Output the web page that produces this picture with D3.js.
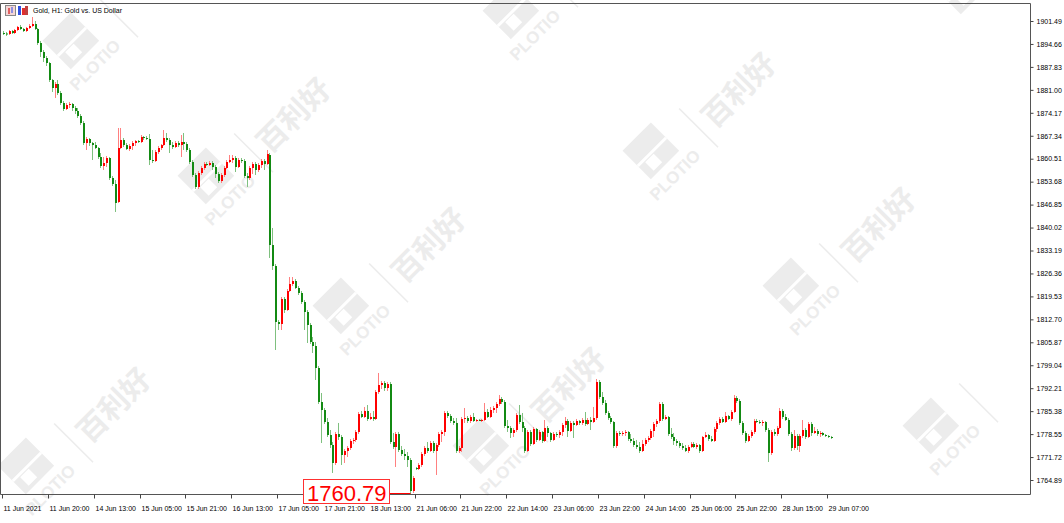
<!DOCTYPE html>
<html><head><meta charset="utf-8">
<script src="https://cdn.jsdelivr.net/npm/d3@7"></script>
<style>body{margin:0;background:#fff}svg{display:block}</style>
</head><body>
<svg id="c" width="1064" height="523"></svg>
<script>
const title = "Gold, H1:  Gold vs. US Dollar";
const timeLabels = ["11 Jun 2021","11 Jun 20:00","14 Jun 13:00","15 Jun 05:00","15 Jun 21:00","16 Jun 13:00","17 Jun 05:00","17 Jun 21:00","18 Jun 13:00","21 Jun 06:00","21 Jun 22:00","22 Jun 14:00","23 Jun 06:00","23 Jun 22:00","24 Jun 14:00","25 Jun 06:00","25 Jun 22:00","28 Jun 15:00","29 Jun 07:00"];
const labelEvery = 16;
const priceTicks = [1901.49,1894.66,1887.83,1881.00,1874.17,1867.34,1860.51,1853.68,1846.85,1840.02,1833.19,1826.36,1819.53,1812.70,1805.87,1799.04,1792.21,1785.38,1778.55,1771.72,1764.89];
const lowMark = {index:142, value:1760.79};
const watermarkLogo = "PLOTIO";
const watermarkText = "百利好";

const open = [1897.92,1897.77,1897.62,1898.51,1897.92,1898.81,1899.71,1899.11,1898.51,1899.41,1900.00,1900.60,1899.11,1894.94,1892.27,1890.48,1888.99,1883.93,1881.55,1882.74,
1880.06,1877.09,1875.30,1876.49,1876.79,1875.60,1874.71,1873.21,1871.13,1865.18,1866.37,1865.18,1864.58,1863.69,1861.01,1858.34,1859.23,1860.72,1854.77,1852.98,
1847.62,1863.69,1866.07,1864.58,1863.39,1864.29,1865.18,1865.77,1865.48,1866.97,1866.67,1866.37,1860.12,1859.82,1862.50,1863.69,1864.58,1866.67,1866.07,1864.58,
1863.99,1865.18,1864.58,1865.48,1864.88,1863.10,1859.53,1855.66,1852.09,1856.25,1857.74,1858.93,1858.63,1859.23,1858.04,1855.96,1853.87,1855.66,1857.74,1859.53,
1860.12,1860.72,1858.04,1860.12,1859.82,1855.36,1854.77,1857.74,1858.93,1857.15,1858.63,1859.82,1858.93,1861.61,1834.83,1828.58,1811.91,1811.32,1818.76,1815.48,
1821.13,1823.22,1824.11,1822.03,1820.54,1817.86,1814.89,1811.02,1805.96,1804.77,1798.22,1788.10,1785.72,1782.15,1778.28,1775.31,1769.95,1778.58,1777.69,1772.33,
1773.52,1774.42,1776.50,1776.80,1779.18,1784.53,1783.64,1785.43,1783.05,1783.64,1783.05,1791.08,1793.16,1793.76,1792.27,1793.46,1776.20,1774.71,1778.58,1773.82,
1772.63,1772.03,1770.84,1761.62,1768.46,1768.17,1769.36,1772.63,1774.42,1773.52,1775.90,1773.52,1775.31,1778.58,1779.18,1784.83,1783.94,1782.45,1781.86,1773.52,
1774.42,1783.05,1783.34,1782.45,1783.64,1782.45,1782.75,1782.60,1782.75,1785.13,1783.64,1785.72,1786.32,1787.51,1789.00,1788.10,1780.96,1780.37,1778.88,1779.77,
1784.24,1782.15,1780.37,1773.52,1779.18,1775.61,1780.07,1776.80,1779.18,1776.50,1780.37,1778.88,1776.80,1778.58,1778.28,1779.18,1781.26,1782.45,1779.47,1781.86,
1781.26,1782.45,1781.86,1782.75,1781.56,1782.75,1782.15,1783.34,1794.06,1789.59,1787.81,1784.83,1783.34,1782.15,1775.01,1778.88,1778.58,1778.88,1779.18,1777.09,
1776.50,1775.31,1774.71,1773.52,1775.61,1776.80,1777.39,1779.47,1781.56,1782.45,1787.51,1783.05,1783.64,1778.58,1777.69,1776.50,1775.90,1775.01,1774.42,1773.52,
1774.71,1775.61,1774.71,1775.31,1773.52,1777.69,1778.28,1777.09,1776.50,1780.07,1781.86,1783.05,1782.15,1783.94,1783.05,1785.13,1789.30,1788.40,1781.86,1778.88,
1776.50,1777.99,1779.18,1782.45,1782.15,1781.86,1782.15,1779.77,1772.92,1779.18,1778.58,1780.37,1785.43,1783.64,1782.75,1778.58,1774.42,1777.99,1775.01,1777.99,
1779.77,1777.69,1781.56,1778.88,1779.47,1778.58,1778.88,1778.28,1777.99,1777.69];
const high = [1898.51,1898.22,1898.81,1898.81,1899.11,1900.00,1900.30,1899.41,1899.71,1900.60,1902.68,1901.49,1899.41,1895.54,1892.86,1891.07,1889.29,1884.23,1883.34,1883.93,
1880.66,1877.68,1877.09,1877.39,1877.09,1876.20,1875.60,1873.81,1871.73,1866.97,1866.67,1865.48,1865.48,1863.99,1862.20,1861.01,1861.31,1861.01,1855.36,1854.17,
1869.65,1869.65,1866.67,1865.18,1864.88,1865.77,1866.07,1866.07,1867.56,1867.26,1867.26,1867.86,1863.10,1863.10,1864.29,1864.88,1869.05,1868.16,1866.67,1865.48,
1865.77,1865.77,1867.56,1868.16,1865.48,1863.69,1860.12,1856.25,1856.85,1858.34,1859.53,1859.53,1859.82,1859.82,1858.63,1856.55,1856.25,1858.34,1860.12,1861.61,
1861.61,1861.31,1860.72,1860.72,1860.42,1856.25,1858.34,1859.53,1859.53,1859.23,1860.42,1860.42,1863.10,1862.20,1839.89,1829.17,1812.51,1819.35,1819.35,1821.73,
1825.30,1825.30,1824.71,1822.62,1821.13,1818.46,1815.48,1811.62,1807.45,1805.96,1798.82,1790.78,1786.32,1783.34,1779.77,1776.20,1779.18,1781.86,1778.28,1774.12,
1775.01,1777.09,1777.39,1779.77,1785.13,1785.43,1786.62,1787.21,1784.83,1785.43,1791.68,1796.74,1794.35,1794.35,1794.06,1794.06,1778.88,1779.18,1779.18,1775.01,
1774.12,1773.22,1771.44,1766.08,1768.76,1769.95,1773.22,1775.01,1776.20,1776.50,1776.50,1775.90,1779.18,1779.77,1785.43,1785.43,1784.53,1783.34,1783.34,1775.01,
1783.64,1786.32,1783.94,1784.24,1784.83,1783.05,1783.05,1783.05,1787.81,1786.02,1786.62,1786.91,1788.10,1790.19,1789.59,1788.70,1782.75,1780.96,1780.37,1784.83,
1787.21,1784.83,1780.96,1779.77,1779.77,1780.66,1780.37,1779.77,1779.47,1782.75,1780.96,1779.18,1779.18,1779.18,1779.77,1781.86,1783.64,1783.05,1782.45,1782.45,
1783.05,1782.75,1783.34,1785.13,1783.34,1783.64,1786.62,1794.95,1794.65,1791.08,1788.70,1785.43,1783.94,1782.45,1779.47,1779.47,1779.47,1779.77,1779.47,1778.58,
1777.39,1776.80,1776.20,1776.80,1777.39,1777.99,1780.07,1782.15,1783.05,1788.10,1788.10,1784.24,1783.94,1780.37,1778.88,1777.09,1776.50,1775.90,1775.31,1775.31,
1776.20,1776.20,1775.90,1775.61,1777.99,1779.18,1778.58,1777.99,1780.66,1782.45,1783.64,1783.64,1785.13,1784.24,1785.72,1790.19,1789.89,1789.00,1782.45,1779.47,
1778.58,1779.77,1783.05,1783.05,1782.75,1782.75,1782.45,1780.37,1779.77,1780.07,1780.96,1786.32,1786.02,1784.53,1783.34,1779.18,1779.77,1778.58,1778.58,1782.75,
1780.37,1782.15,1782.15,1780.66,1780.07,1779.47,1779.18,1778.58,1778.28,1777.99];
const low = [1897.32,1897.03,1897.32,1897.62,1897.62,1898.51,1898.81,1898.22,1898.22,1899.11,1899.71,1898.81,1894.35,1890.78,1889.29,1888.10,1883.34,1880.36,1878.58,1879.47,
1876.49,1874.71,1875.00,1875.60,1874.71,1873.81,1872.62,1870.54,1864.58,1863.10,1864.29,1860.12,1863.39,1860.42,1857.74,1857.15,1858.04,1854.17,1852.39,1844.65,
1847.33,1863.39,1863.99,1863.10,1862.80,1863.10,1864.29,1865.18,1865.18,1866.07,1866.07,1858.63,1859.23,1859.53,1861.91,1863.10,1864.29,1865.48,1862.20,1863.39,
1863.69,1863.99,1861.01,1863.10,1862.50,1858.93,1855.06,1851.49,1851.49,1855.66,1857.15,1858.34,1858.34,1857.15,1854.77,1853.28,1853.28,1855.06,1857.44,1859.23,
1859.23,1856.55,1857.74,1859.23,1854.77,1852.09,1854.17,1855.96,1855.66,1856.55,1857.74,1857.15,1858.63,1830.96,1827.39,1803.58,1809.53,1809.53,1814.59,1815.19,
1820.84,1822.62,1821.73,1819.95,1817.27,1809.53,1805.66,1805.37,1802.69,1794.65,1787.51,1775.90,1781.56,1777.69,1774.42,1766.98,1769.36,1776.80,1769.36,1769.95,
1771.73,1773.82,1775.61,1776.20,1778.58,1783.34,1783.34,1782.45,1782.75,1782.45,1782.75,1790.49,1791.97,1791.38,1791.38,1775.61,1774.12,1768.76,1773.22,1772.03,
1770.84,1768.76,1760.79,1761.02,1767.87,1767.87,1768.76,1772.03,1772.92,1773.22,1772.92,1766.38,1774.71,1776.20,1777.99,1783.34,1781.86,1781.26,1772.92,1772.92,
1773.22,1781.86,1781.86,1781.86,1782.15,1782.15,1782.45,1782.15,1782.45,1783.34,1783.34,1784.83,1784.83,1786.91,1787.51,1780.37,1779.18,1777.39,1777.69,1779.18,
1781.56,1779.18,1772.92,1773.22,1775.01,1775.31,1776.20,1776.50,1775.90,1776.20,1777.69,1776.20,1776.50,1777.69,1777.39,1777.99,1780.37,1777.69,1779.18,1777.39,
1780.96,1781.26,1781.26,1780.96,1781.26,1779.77,1781.86,1782.75,1789.00,1787.21,1784.24,1782.75,1781.56,1774.42,1774.42,1777.99,1777.99,1777.99,1776.50,1775.90,
1774.71,1774.12,1772.92,1773.22,1775.01,1776.20,1776.80,1777.69,1780.66,1781.86,1782.45,1782.75,1777.99,1777.09,1775.31,1775.01,1774.42,1773.82,1773.22,1772.92,
1774.42,1774.42,1774.12,1772.92,1773.22,1777.39,1776.50,1776.20,1776.20,1779.18,1781.26,1781.86,1781.86,1782.75,1782.45,1784.83,1787.81,1781.26,1778.28,1775.90,
1776.20,1777.39,1778.58,1781.86,1781.56,1780.96,1779.18,1770.25,1772.33,1777.99,1777.99,1780.07,1783.05,1782.45,1777.99,1773.52,1773.82,1773.82,1773.22,1777.39,
1777.09,1777.39,1777.99,1778.58,1777.99,1777.69,1777.99,1777.69,1777.39,1777.09];
const close = [1897.77,1897.62,1898.51,1897.92,1898.81,1899.71,1899.11,1898.51,1899.41,1900.00,1900.60,1899.11,1894.94,1892.27,1890.48,1888.99,1883.93,1881.55,1882.74,1880.06,
1877.09,1875.30,1876.49,1876.79,1875.60,1874.71,1873.21,1871.13,1865.18,1866.37,1865.18,1864.58,1863.69,1861.01,1858.34,1859.23,1860.72,1854.77,1852.98,1847.33,
1863.69,1866.07,1864.58,1863.39,1864.29,1865.18,1865.77,1865.48,1866.97,1866.67,1866.37,1860.12,1859.82,1862.50,1863.69,1864.58,1866.67,1866.07,1864.58,1863.99,
1865.18,1864.58,1865.48,1864.88,1863.10,1859.53,1855.66,1852.09,1856.25,1857.74,1858.93,1858.63,1859.23,1858.04,1855.96,1853.87,1855.66,1857.74,1859.53,1860.12,
1860.72,1858.04,1860.12,1859.82,1855.36,1854.77,1857.74,1858.93,1857.15,1858.63,1859.82,1858.93,1861.91,1834.83,1828.58,1811.91,1811.32,1818.76,1815.48,1821.13,
1823.22,1824.11,1822.03,1820.54,1817.86,1814.89,1811.02,1805.96,1804.77,1798.22,1788.10,1785.72,1782.15,1778.28,1775.31,1769.95,1778.58,1777.69,1772.33,1773.52,
1774.42,1776.50,1776.80,1779.18,1784.53,1783.64,1785.43,1783.05,1783.64,1783.05,1791.08,1793.16,1793.76,1792.27,1793.46,1776.20,1774.71,1778.58,1773.82,1772.63,
1772.03,1770.84,1761.62,1765.49,1768.17,1769.36,1772.63,1774.42,1773.52,1775.90,1773.52,1775.31,1778.58,1779.18,1784.83,1783.94,1782.45,1781.86,1773.52,1774.42,
1783.05,1783.34,1782.45,1783.64,1782.45,1782.75,1782.60,1782.75,1785.13,1783.64,1785.72,1786.32,1787.51,1789.00,1788.10,1780.96,1780.37,1778.88,1779.77,1784.24,
1782.15,1780.37,1773.52,1779.18,1775.61,1780.07,1776.80,1779.18,1776.50,1780.37,1778.88,1776.80,1778.58,1778.28,1779.18,1781.26,1782.45,1779.47,1781.86,1781.26,
1782.45,1781.86,1782.75,1781.56,1782.75,1782.15,1783.34,1794.06,1789.59,1787.81,1784.83,1783.34,1782.15,1775.01,1778.88,1778.58,1778.88,1779.18,1777.09,1776.50,
1775.31,1774.71,1773.52,1775.61,1776.80,1777.39,1779.47,1781.56,1782.45,1787.51,1783.05,1783.64,1778.58,1777.69,1776.50,1775.90,1775.01,1774.42,1773.52,1774.71,
1775.61,1774.71,1775.31,1773.52,1777.69,1778.28,1777.09,1776.50,1780.07,1781.86,1783.05,1782.15,1783.94,1783.05,1785.13,1789.30,1788.40,1781.86,1778.88,1776.50,
1777.99,1779.18,1782.45,1782.15,1781.86,1782.15,1779.77,1772.92,1779.18,1778.58,1780.37,1785.43,1783.64,1782.75,1778.58,1774.42,1777.99,1775.01,1777.99,1779.77,
1777.69,1781.56,1778.88,1779.47,1778.58,1778.88,1778.28,1777.99,1777.69,1777.54];

// approximate watermark anchor points (logo centres)
const wmX = [85, 220, 355, 495, 525, 665, 805, 945, 975, 40, -95];
const wmY = [55, 190, 320, 460, 25, 165, 300, 440, 0, 480, 345];

const candles = open.map((o,i)=>({i,o,h:high[i],l:low[i],c:close[i]}));

const W = 1064, H = 523;
const svg = d3.select("#c");
const FONT = "'Liberation Sans', Arial, sans-serif";
const x = d3.scaleLinear().domain([0, labelEvery*(timeLabels.length-1)]).range([3, 828.1]);
const y = d3.scaleLinear().domain([priceTicks[priceTicks.length-1], priceTicks[0]]).range([480, 21]);
const plotRight = 1030, plotBottom = 494, plotTop = 3;

svg.append("rect").attr("width",W).attr("height",H).attr("fill","#fff");

// watermarks (very faint)
const WM = "#ececec";
const wm = svg.append("g");
wmX.forEach((wx,k)=>{
  const u = wm.append("g").attr("transform",`translate(${wx},${wmY[k]}) rotate(-45)`);
  u.append("rect").attr("x",-20).attr("y",-40).attr("width",40).attr("height",40).attr("fill",WM);
  u.append("rect").attr("x",-12).attr("y",-16).attr("width",12).attr("height",12).attr("fill","#fff");
  u.append("rect").attr("x",-20).attr("y",-20).attr("width",40).attr("height",3).attr("fill","#fff");
  u.append("text").attr("class","wmt").attr("x",0).attr("y",20).attr("text-anchor","middle").attr("font-family",FONT)
    .attr("font-weight","bold").attr("font-size",17).attr("fill",WM).text(watermarkLogo);
  u.append("line").attr("x1",50).attr("x2",50).attr("y1",-30).attr("y2",25).attr("stroke",WM).attr("stroke-width",1.5);
  u.append("text").attr("class","wmt").attr("x",105).attr("y",10).attr("text-anchor","middle").attr("font-family","'Noto Sans CJK SC', sans-serif")
    .attr("font-weight","bold").attr("font-size",30).attr("fill",WM).text(watermarkText);
});
// drop watermark words that would fall partly outside the picture
wm.selectAll("text.wmt").each(function(){
  const r = this.getBoundingClientRect();
  if (r.left < 0 || r.top < 0 || r.right > W || r.bottom > H) d3.select(this).remove();
});

// candles
const UP = "#ff0000", DOWN = "#138a13";
const g = svg.append("g");
g.selectAll("line.w").data(candles).join("line")
  .attr("x1", d=>Math.round(x(d.i))+0.5).attr("x2", d=>Math.round(x(d.i))+0.5)
  .attr("y1", d=>y(d.h)).attr("y2", d=>y(d.l))
  .attr("stroke", d=>d.c>=d.o?"#ff8080":"#7fc07f").attr("stroke-width",1);
g.selectAll("rect.b").data(candles).join("rect")
  .attr("x", d=>Math.round(x(d.i)))
  .attr("width", 2)
  .attr("y", d=>Math.min(y(d.o),y(d.c)))
  .attr("height", d=>Math.max(1, Math.abs(y(d.o)-y(d.c))))
  .attr("fill", d=>d.c>=d.o?UP:DOWN);

// frame
svg.append("path").attr("d",`M0.5,${plotTop+0.5}H${plotRight+0.5}V${plotBottom+0.5}H0.5Z`)
  .attr("fill","none").attr("stroke","#555").attr("stroke-width",1);

// y axis
const ya = svg.append("g").attr("transform",`translate(${plotRight+0.5},0)`)
  .call(d3.axisRight(y).tickValues(priceTicks).tickSize(3).tickPadding(3).tickFormat(d3.format(".2f")));
ya.select(".domain").remove();
ya.selectAll("line").attr("stroke","#444");
ya.selectAll("text").attr("font-family",FONT).attr("font-size",7).attr("fill","#000");

// x axis
const xa = svg.append("g").attr("transform",`translate(0,${plotBottom+0.5})`)
  .call(d3.axisBottom(x).tickValues(timeLabels.map((t,k)=>k*labelEvery)).tickSize(4).tickPadding(8)
    .tickFormat((d)=>timeLabels[d/labelEvery]));
xa.select(".domain").remove();
xa.selectAll(".tick").attr("transform", d=>`translate(${Math.round(x(d))-0.5},0)`);
xa.selectAll("line").attr("stroke","#444");
xa.selectAll("text").attr("text-anchor","start").attr("x",1).attr("font-family",FONT).attr("font-size",7).attr("fill","#000");

// title + icons
const ic = svg.append("g");
ic.append("rect").attr("x",5.5).attr("y",5.5).attr("width",10).attr("height",10).attr("fill","#f4d6d6").attr("stroke","#888");
ic.append("rect").attr("x",8).attr("y",8).attr("width",2).attr("height",6).attr("fill","#e06060");
ic.append("rect").attr("x",11).attr("y",7).attr("width",2).attr("height",6).attr("fill","#9090e0");
ic.append("rect").attr("x",18).attr("y",6).attr("width",3).attr("height",9).attr("fill","#3050e0");
ic.append("rect").attr("x",22).attr("y",8).attr("width",3).attr("height",7).attr("fill","#e03030");
ic.append("rect").attr("x",25).attr("y",6).attr("width",3).attr("height",9).attr("fill","#c04040");
svg.append("text").attr("x",33).attr("y",13).attr("font-family",FONT).attr("font-size",7).attr("fill","#000").text(title);

// low marker
const lx = Math.round(x(lowMark.index))+0.5, ly = y(lowMark.value);
svg.append("path").attr("d",`M389,${plotBottom-0.5}H${lx}V${ly}`).attr("fill","none").attr("stroke","#ff0000").attr("stroke-width",1);
svg.append("rect").attr("x",303.5).attr("y",479.5).attr("width",86).attr("height",24).attr("fill","#fff").attr("stroke","#ff3030");
svg.append("text").attr("x",307).attr("y",501).attr("font-family",FONT).attr("font-size",22).attr("fill","#ff0000").text(lowMark.value.toFixed(2));
</script>
</body></html>
